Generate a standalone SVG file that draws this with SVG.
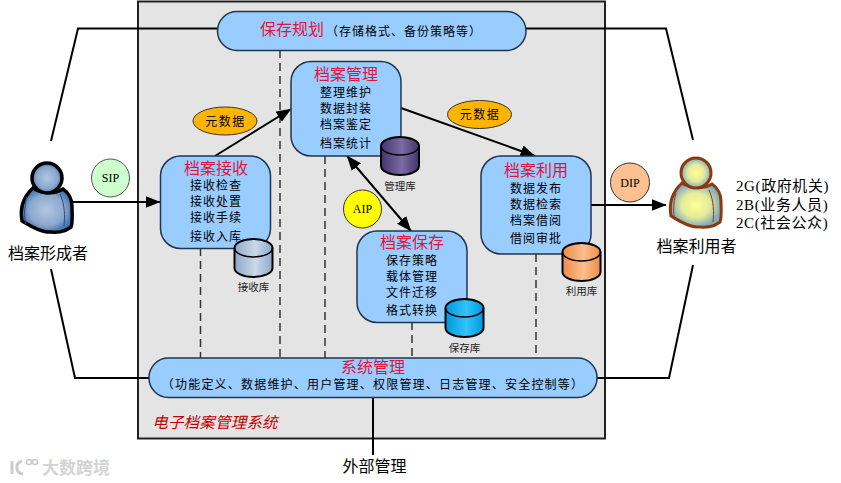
<svg xmlns="http://www.w3.org/2000/svg" width="841" height="483" viewBox="0 0 841 483">
<style>
text{font-family:"Liberation Serif","Noto Sans CJK SC",serif;text-anchor:middle}
.box{fill:#99ccff;stroke:#1f3550;stroke-width:1.5}
.t{font-size:16px;fill:#e0143c}
.b{font-size:12px;fill:#000;letter-spacing:1px}
.w{letter-spacing:1.2px}
.m{font-size:12px;fill:#000;letter-spacing:1.5px}
.l{font-size:16px;fill:#000}
.r{font-size:15px;fill:#000;text-anchor:start;letter-spacing:.6px}
.db{font-size:10.5px;fill:#222}
.s{font-size:12px;fill:#000}
.line{fill:none;stroke:#000;stroke-width:2}
.dash{fill:none;stroke:#333;stroke-width:1.5;stroke-dasharray:8 5}
.cyl{stroke:#000;stroke-width:2}
.arm{fill:none;stroke-width:1}
</style>
<defs>
<marker id="ah" viewBox="0 0 15 12" refX="14.5" refY="6" markerWidth="15" markerHeight="12" markerUnits="userSpaceOnUse" orient="auto-start-reverse"><path d="M0,0L15,6L0,12Z" fill="#000"/></marker>
<linearGradient id="c1"><stop offset="0" stop-color="#8ea8c8"/><stop offset=".55" stop-color="#cbd8e8"/><stop offset="1" stop-color="#8ea8c8"/></linearGradient>
<linearGradient id="c2"><stop offset="0" stop-color="#44346c"/><stop offset=".55" stop-color="#7c6ba2"/><stop offset="1" stop-color="#44346c"/></linearGradient>
<linearGradient id="c3"><stop offset="0" stop-color="#0096dc"/><stop offset=".55" stop-color="#30c4fa"/><stop offset="1" stop-color="#0096dc"/></linearGradient>
<linearGradient id="c4"><stop offset="0" stop-color="#ec8c48"/><stop offset=".55" stop-color="#fbbf8c"/><stop offset="1" stop-color="#ec8c48"/></linearGradient>
<radialGradient id="pb"><stop offset="0" stop-color="#b4c6e0"/><stop offset=".7" stop-color="#8aa8ce"/><stop offset="1" stop-color="#4a78b0"/></radialGradient>
<radialGradient id="py"><stop offset="0" stop-color="#ffff90"/><stop offset=".55" stop-color="#e4ec9c"/><stop offset="1" stop-color="#84a8bc"/></radialGradient>
<g id="person">
<path d="M-14,10C-5,16 8,16 16,11C22,15 25,22 25,28C25,36 26,44 24,49C15,56 6,54 0,54C-10,53 -18,47 -25,43C-27,32 -25,20 -14,10Z"/>
<circle cx="0" cy="0" r="15"/>
</g>
<path id="cyl" d="M0,9V29A19,9 0 0 0 38,29V9A19,9 0 0 0 0,9Z"/>
<path id="cylt" d="M0,9A19,9 0 0 0 38,9"/>
</defs>

<rect id="system-boundary" x="138" y="1.5" width="467" height="437" fill="#e4e4e4" stroke="#222" stroke-width="2"/>

<g id="connectors">
<path class="line" d="M51,141L78,28.5H217"/>
<path class="line" d="M526,28.5H666L693,140"/>
<path class="line" d="M51,269L75,378H149"/>
<path class="line" d="M597,378H669L693,265"/>
<path class="line" d="M373,397V455"/>
<path class="dash" d="M280,50V358"/>
<path class="dash" d="M200.500,248V358"/>
<path class="dash" d="M325,156V358"/>
<path class="dash" d="M412,322V358"/>
<path class="dash" d="M536,254V358"/>
<path class="line" d="M72,202H160" marker-end="url(#ah)"/>
<path class="line" d="M591,205H666" marker-end="url(#ah)"/>
<path class="line" d="M215,156L291,109" marker-end="url(#ah)"/>
<path class="line" d="M401,108L535,156" marker-end="url(#ah)"/>
<path class="line" d="M347,156L411,231" marker-start="url(#ah)" marker-end="url(#ah)"/>
</g>

<g id="storage-planning">
<rect class="box" x="217.500" y="11.500" width="308.500" height="39" rx="19.500"/>
<text class="t" x="292" y="35">保存规划</text>
<text class="b" x="404" y="36">（存储格式、备份策略等）</text>
</g>

<g id="archive-intake">
<rect class="box" x="160.500" y="156" width="110" height="92.500" rx="20"/>
<text class="t" x="216" y="174">档案接收</text>
<text class="b" x="216" y="190">接收检查</text>
<text class="b" x="216" y="206">接收处置</text>
<text class="b" x="216" y="222">接收手续</text>
<text class="b" x="216" y="241">接收入库</text>
</g>

<g id="archive-management">
<rect class="box" x="291" y="61.500" width="110" height="94.500" rx="20"/>
<text class="t" x="346" y="80">档案管理</text>
<text class="b" x="346" y="97">整理维护</text>
<text class="b" x="346" y="113">数据封装</text>
<text class="b" x="346" y="129">档案鉴定</text>
<text class="b" x="346" y="148">档案统计</text>
</g>

<g id="archive-use">
<rect class="box" x="481" y="156" width="110" height="98" rx="20"/>
<text class="t" x="536" y="176">档案利用</text>
<text class="b" x="536" y="193">数据发布</text>
<text class="b" x="536" y="209">数据检索</text>
<text class="b" x="536" y="225">档案借阅</text>
<text class="b" x="536" y="243">借阅审批</text>
</g>

<g id="archive-preservation">
<rect class="box" x="357" y="231" width="110" height="91.500" rx="20"/>
<text class="t" x="412" y="248">档案保存</text>
<text class="b" x="412" y="265">保存策略</text>
<text class="b" x="412" y="281">载体管理</text>
<text class="b" x="412" y="297">文件迁移</text>
<text class="b" x="412" y="315">格式转换</text>
</g>

<g id="system-management">
<rect class="box" x="149" y="358" width="448" height="39.500" rx="19.500"/>
<text class="t" x="373" y="373">系统管理</text>
<text class="b w" x="373" y="389">（功能定义、数据维护、用户管理、权限管理、日志管理、安全控制等）</text>
</g>

<g id="db-intake" transform="translate(234.500,239)">
<use href="#cyl" class="cyl" fill="url(#c1)"/><use href="#cylt" fill="none" stroke="#000" stroke-width="1.600"/>
<text class="db" x="19" y="52">接收库</text>
</g>
<g id="db-management" transform="translate(381,137)">
<use href="#cyl" class="cyl" fill="url(#c2)"/><use href="#cylt" fill="none" stroke="#000" stroke-width="1.600"/>
<text class="db" x="19" y="52.500">管理库</text>
</g>
<g id="db-preservation" transform="translate(445.500,299)">
<use href="#cyl" class="cyl" fill="url(#c3)"/><use href="#cylt" fill="none" stroke="#000" stroke-width="1.600"/>
<text class="db" x="19" y="53">保存库</text>
</g>
<g id="db-use" transform="translate(562.500,243)">
<use href="#cyl" class="cyl" fill="url(#c4)"/><use href="#cylt" fill="none" stroke="#000" stroke-width="1.600"/>
<text class="db" x="19" y="52">利用库</text>
</g>

<g id="meta-left">
<ellipse cx="225" cy="121" rx="32" ry="14" fill="#ffb400" stroke="#333" stroke-width="1"/>
<text class="m" x="225.500" y="125.500">元数据</text>
</g>
<g id="meta-right">
<ellipse cx="479.500" cy="114.500" rx="32" ry="14" fill="#ffb400" stroke="#333" stroke-width="1"/>
<text class="m" x="480" y="119">元数据</text>
</g>
<g id="sip">
<circle cx="110.500" cy="178" r="19" fill="#ccffcc" stroke="#555" stroke-width="1"/>
<text class="s" x="110.500" y="182">SIP</text>
</g>
<g id="aip">
<circle cx="362.500" cy="209" r="19" fill="#ffff00" stroke="#333" stroke-width="1"/>
<text class="s" x="362.500" y="213">AIP</text>
</g>
<g id="dip">
<circle cx="630" cy="182.500" r="19.500" fill="#fdc090" stroke="#333" stroke-width="1"/>
<text class="s" x="630" y="186.500">DIP</text>
</g>

<g id="archive-producer">
<use href="#person" transform="translate(47,178)" fill="url(#pb)" stroke="#000" stroke-width="3.500"/>
<path class="arm" stroke="#2a4a80" d="M27,197C24,207 24,218 26,224M60,194C65,205 65,216 64,226"/>
<text class="l" x="48" y="259">档案形成者</text>
</g>

<g id="archive-user">
<use href="#person" transform="translate(696,173)" fill="url(#py)" stroke="#8a3a10" stroke-width="3"/>
<path class="arm" stroke="#8a3a10" d="M676,193C673,203 673,214 675,220M709,190C714,201 714,212 713,222"/>
<text class="l" x="696.500" y="252">档案利用者</text>
<text class="r" x="736" y="191">2G(政府机关)</text>
<text class="r" x="736" y="210">2B(业务人员)</text>
<text class="r" x="736" y="228">2C(社会公众)</text>
</g>

<g id="external-management">
<text class="l" x="374.500" y="472">外部管理</text>
</g>

<text x="215" y="428" font-size="15.500" font-style="italic" fill="#c00000" style="letter-spacing:.2px">电子档案管理系统</text>

<g id="watermark">
<path d="M12,461V474M22,461C15,463 15,473 23,474" fill="none" stroke="#ccc" stroke-width="3"/>
<circle cx="29" cy="462" r="2.500" fill="none" stroke="#ccc" stroke-width="1.500"/>
<circle cx="35" cy="462" r="2.500" fill="none" stroke="#ccc" stroke-width="1.500"/>
<text x="76" y="474" font-size="17" font-weight="bold" fill="#d4d4d4">大数跨境</text>
</g>
</svg>
